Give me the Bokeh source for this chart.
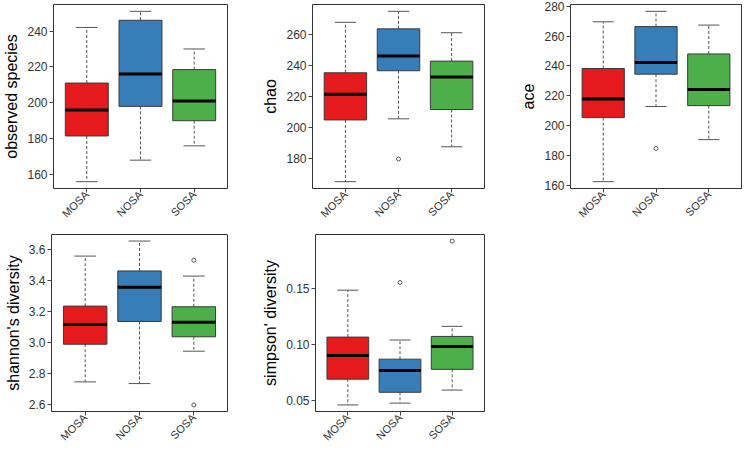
import math
from bokeh.plotting import figure
from bokeh.layouts import column, row
from bokeh.models import FixedTicker, Range1d, ColumnDataSource
from bokeh.embed import file_html
from bokeh.resources import INLINE

groups = ["MOSA", "NOSA", "SOSA"]
colors = ["#E41A1C", "#377EB8", "#4DAF4A"]
xpos = [1, 2, 3]

# observed species
obs_low = [156, 168, 176]
obs_q1 = [181.5, 198, 190]
obs_med = [196, 216, 201]
obs_q3 = [211, 246, 218.5]
obs_high = [242, 251, 230]
obs_out_x = []
obs_out_y = []
obs_ticks = [160, 180, 200, 220, 240]

# chao
chao_low = [165, 205.5, 187.5]
chao_q1 = [204.8, 236.5, 211.5]
chao_med = [221.3, 246, 232.5]
chao_q3 = [235.2, 263.5, 242.7]
chao_high = [267.7, 274.8, 261]
chao_out_x = [2]
chao_out_y = [179.6]
chao_ticks = [180, 200, 220, 240, 260]

# ace
ace_low = [162.7, 212.9, 190.8]
ace_q1 = [205.5, 234.5, 213.5]
ace_med = [218, 242.3, 224.3]
ace_q3 = [238.3, 266.3, 248]
ace_high = [269.5, 276.5, 267.3]
ace_out_x = [2]
ace_out_y = [184.9]
ace_ticks = [160, 180, 200, 220, 240, 260, 280]

# shannon
sha_low = [2.743, 2.732, 2.941]
sha_q1 = [2.986, 3.133, 3.034]
sha_med = [3.114, 3.354, 3.128]
sha_q3 = [3.232, 3.459, 3.228]
sha_high = [3.555, 3.652, 3.426]
sha_out_x = [3, 3]
sha_out_y = [3.528, 2.594]
sha_ticks = [2.6, 2.8, 3.0, 3.2, 3.4, 3.6]

# simpson
sim_low = [0.046, 0.0476, 0.0593]
sim_q1 = [0.069, 0.0573, 0.0778]
sim_med = [0.0901, 0.0767, 0.0983]
sim_q3 = [0.1066, 0.0869, 0.1072]
sim_high = [0.1485, 0.104, 0.1162]
sim_out_x = [2, 3]
sim_out_y = [0.1554, 0.1924]
sim_ticks = [0.05, 0.10, 0.15]

FONT = "Liberation Sans"
BOX_W = 0.8
CAP_W = 0.4


def panel(low, q1, med, q3, high, out_x, out_y, ticks, fmt, ylabel,
          width, height, bl, br, bt, bb):
    allv = low + high + out_y
    lo, hi = min(allv), max(allv)
    pad = (hi - lo) * 0.04
    p = figure(width=width, height=height, output_backend="svg",
               toolbar_location=None, tools="",
               x_range=Range1d(0.38, 3.62),
               y_range=Range1d(lo - pad, hi + pad),
               min_border_left=bl, min_border_right=br,
               min_border_top=bt, min_border_bottom=bb)
    p.xgrid.visible = False
    p.ygrid.visible = False
    p.outline_line_color = "#333333"
    p.outline_line_width = 1
    p.background_fill_color = "white"
    p.border_fill_color = "white"

    src = ColumnDataSource(dict(
        x=xpos, low=low, q1=q1, med=med, q3=q3, high=high, color=colors,
        x0=[x - BOX_W / 2 for x in xpos], x1=[x + BOX_W / 2 for x in xpos],
        c0=[x - CAP_W / 2 for x in xpos], c1=[x + CAP_W / 2 for x in xpos],
    ))
    # whiskers
    p.segment(x0="x", x1="x", y0="q3", y1="high", source=src,
              line_color="#555555", line_width=1, line_dash="3 2")
    p.segment(x0="x", x1="x", y0="q1", y1="low", source=src,
              line_color="#555555", line_width=1, line_dash="3 2")
    # caps
    p.segment(x0="c0", x1="c1", y0="high", y1="high", source=src,
              line_color="#555555", line_width=1)
    p.segment(x0="c0", x1="c1", y0="low", y1="low", source=src,
              line_color="#555555", line_width=1)
    # boxes
    p.vbar(x="x", width=BOX_W, bottom="q1", top="q3", source=src,
           fill_color="color", line_color="#3a3a3a", line_width=1)
    # medians
    p.segment(x0="x0", x1="x1", y0="med", y1="med", source=src,
              line_color="black", line_width=3)
    # outliers
    if out_x:
        p.scatter(x=out_x, y=out_y, marker="circle", size=4,
                  fill_color=None, line_color="#555555", line_width=1)

    xa = p.xaxis[0]
    xa.ticker = FixedTicker(ticks=xpos)
    xa.major_label_overrides = {x: g for x, g in zip(xpos, groups)}
    xa.major_label_orientation = math.pi / 4
    ya = p.yaxis[0]
    ya.ticker = FixedTicker(ticks=ticks)
    ya.major_label_overrides = {t: fmt % t for t in ticks}
    for ax in (xa, ya):
        ax.axis_line_color = None
        ax.major_tick_line_color = "#444444"
        ax.major_tick_in = 0
        ax.major_tick_out = 4
        ax.minor_tick_line_color = None
        ax.major_label_text_font = FONT
        ax.major_label_text_color = "#333333"
    ya.major_label_text_font_size = "12px"
    ya.major_label_standoff = 2
    xa.major_label_text_font_size = "11px"
    xa.major_label_standoff = 0
    ya.axis_label = ylabel
    ya.axis_label_text_font = FONT
    ya.axis_label_text_font_size = "16px"
    ya.axis_label_text_font_style = "normal"
    ya.axis_label_text_color = "black"
    ya.axis_label_standoff = 4
    return p


H1, H2 = 226, 223
p1 = panel(obs_low, obs_q1, obs_med, obs_q3, obs_high, obs_out_x, obs_out_y,
           obs_ticks, "%d", "observed species", 259, H1, 51, 32, 4, 36)
p2 = panel(chao_low, chao_q1, chao_med, chao_q3, chao_high, chao_out_x, chao_out_y,
           chao_ticks, "%d", "chao", 258, H1, 50, 33, 4, 36)
p3 = panel(ace_low, ace_q1, ace_med, ace_q3, ace_high, ace_out_x, ace_out_y,
           ace_ticks, "%d", "ace", 226, H1, 50, 2, 4, 36)
p4 = panel(sha_low, sha_q1, sha_med, sha_q3, sha_high, sha_out_x, sha_out_y,
           sha_ticks, "%.1f", "shannon's diversity", 259, H2, 51, 32, 8, 36)
p5 = panel(sim_low, sim_q1, sim_med, sim_q3, sim_high, sim_out_x, sim_out_y,
           sim_ticks, "%.2f", "simpson' diversity", 258, H2, 50, 33, 8, 36)

layout = column(row(p1, p2, p3), row(p4, p5))
open("out.html", "w").write(file_html(layout, INLINE))
